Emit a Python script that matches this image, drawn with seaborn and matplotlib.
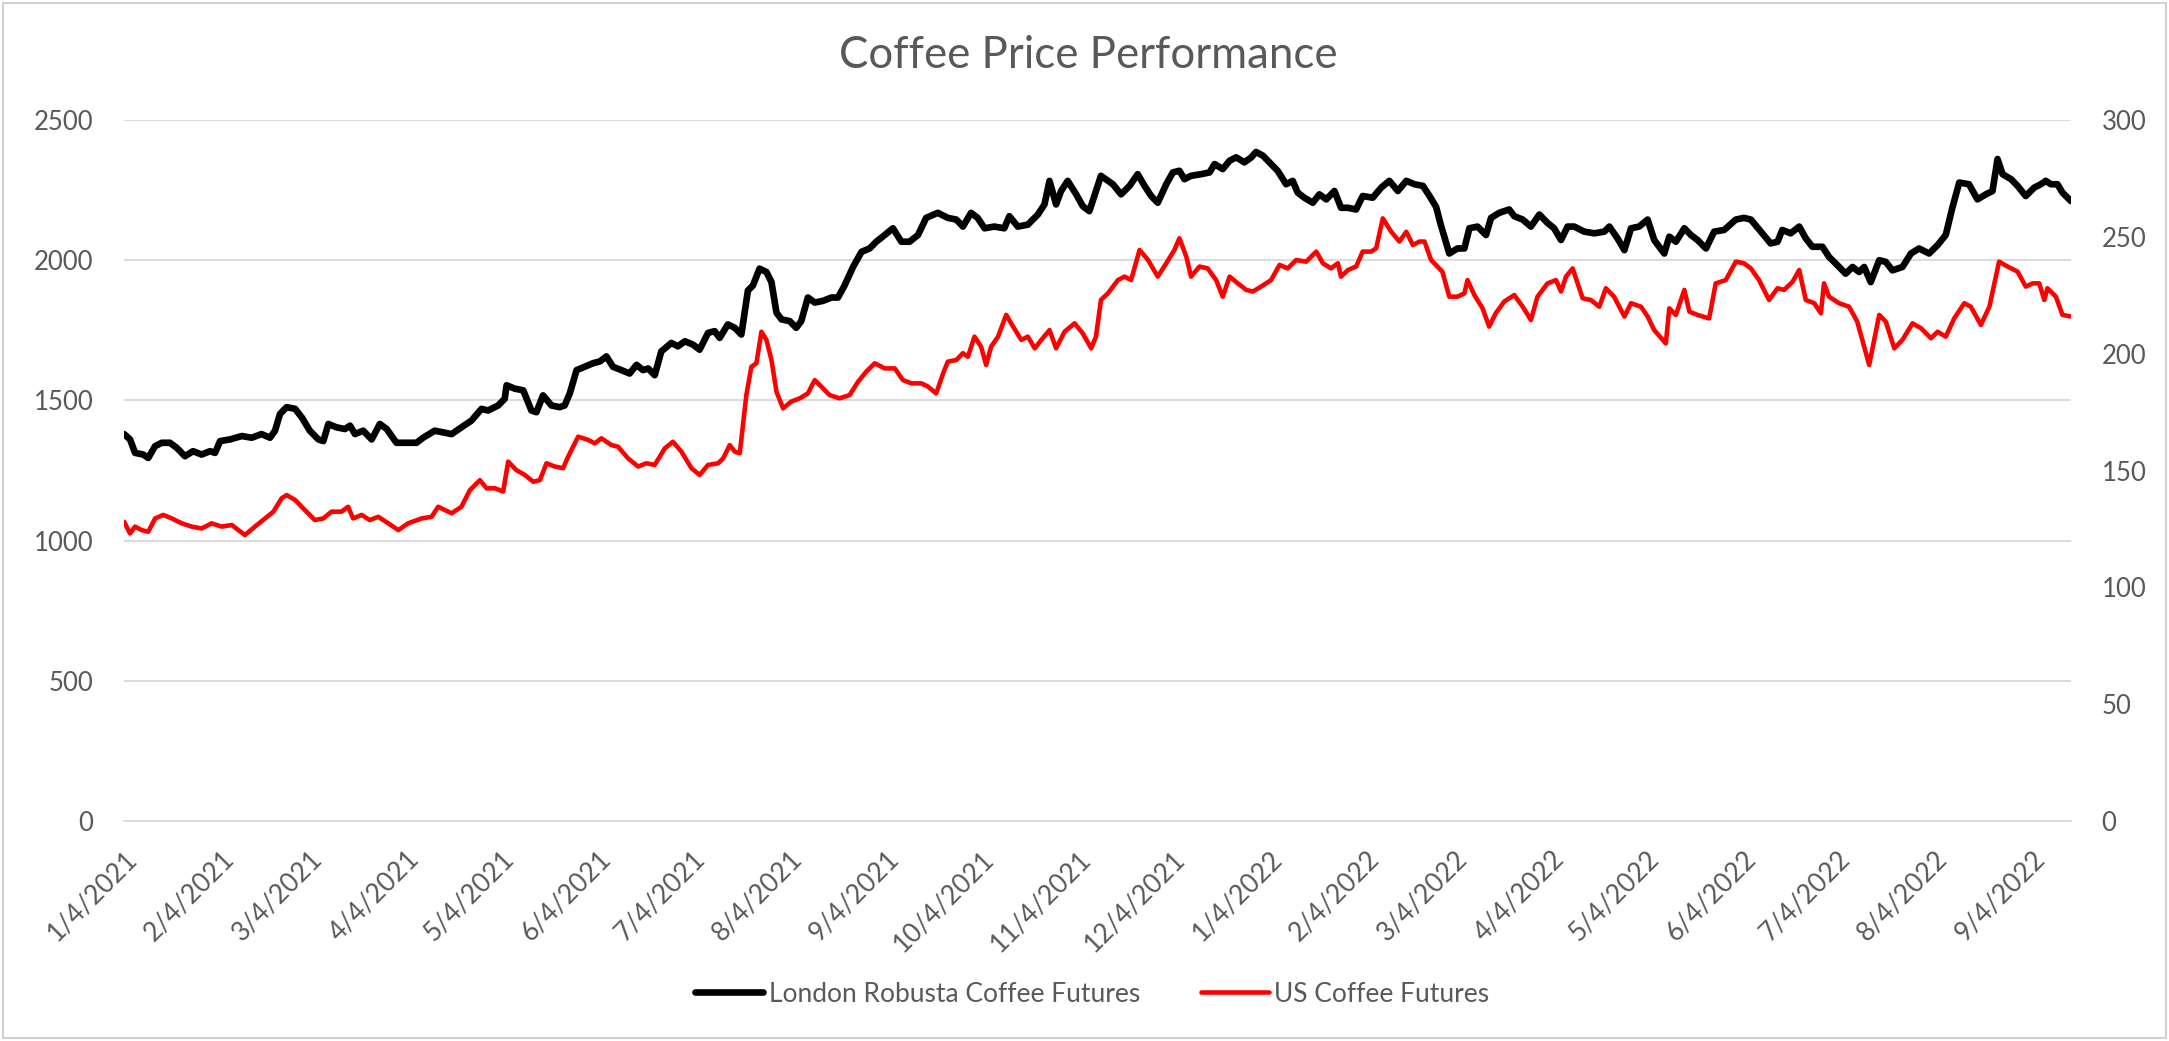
import numpy as np
import pandas as pd
import matplotlib
matplotlib.use("Agg")
import matplotlib.pyplot as plt
from matplotlib.patches import Rectangle
import seaborn as sns

# Day offsets are counted from the first trading day shown (4 Jan 2021)
START = pd.Timestamp("2021-01-04")

london_days = [
    0, 1.9, 3.5, 6.1, 7.7, 9.9, 12, 14.6, 16.8, 19.4, 22, 24.7, 27.4, 29, 30.6, 33.8, 37.5,
    40.7, 43.8, 46.5, 48.1, 49.7, 51.8, 54.5, 56.6, 59.2, 61.9, 63.5, 65.1, 67.7, 70.4, 72,
    73.6, 76.2, 78.9, 81.5, 83.7, 86.8, 89.5, 93.2, 95.3, 99, 101.7, 104.4, 107.5, 110.7,
    113.9, 116, 119.2, 121.3, 121.9, 124.5, 127.2, 129.8, 131.4, 133.5, 136.2, 138.8, 140.4,
    142, 144.2, 146.8, 149.5, 151.6, 153.7, 155.8, 158.5, 161.1, 163.3, 165.4, 167, 169.1,
    171.2, 174.4, 176.5, 178.7, 181.3, 183.4, 186.1, 188.2, 189.8, 192.4, 194.6, 196.7,
    198.8, 200.4, 202.5, 204.7, 206.3, 207.9, 209.5, 212.1, 214.2, 215.8, 217.9, 220.1,
    222.7, 225.4, 227.5, 229.6, 232.3, 235, 237.6, 239.7, 242.4, 245, 247.7, 250.3, 253,
    255.6, 259.3, 262.5, 265.2, 267.3, 269.9, 272, 274.2, 277.3, 280.5, 282.1, 284.8, 288,
    291.2, 293.3, 294.9, 297, 298.6, 300.7, 303.4, 305.5, 307.6, 309.7, 311.3, 315.1, 317.7,
    320.4, 323, 325.2, 327.3, 329.4, 332.1, 334.2, 336.3, 337.9, 340, 343.2, 345.9, 347.5,
    350.1, 352.3, 354.4, 357, 359.2, 360.7, 362.9, 365, 367.6, 370.3, 372.4, 374, 376.1,
    378.8, 380.9, 383.1, 385.7, 387.8, 390, 392.6, 394.7, 397.9, 400.6, 403.2, 405.9, 408.6,
    411.2, 413.9, 416, 418.1, 419.6, 422.3, 424.9, 427.1, 428.7, 431.3, 434, 435.6, 438.2,
    441.4, 443, 445.7, 448.3, 451, 453.6, 455.7, 457.9, 460, 462.1, 465.3, 468.5, 471.7,
    473.3, 475.9, 478.1, 480.2, 482.8, 485.5, 487.6, 490.8, 492.4, 494.5, 497.2, 499.3,
    501.4, 504.1, 506.7, 509.9, 513.6, 516.2, 518.4, 521.6, 524.7, 526.9, 528.4, 531.1,
    533.8, 535.9, 538, 541.2, 543.3, 546, 548.6, 550.8, 552.9, 554.5, 556.6, 559.3, 561.4,
    563.5, 566.7, 569.4, 572, 575.2, 577.9, 580.5, 582.6, 584.8, 587.9, 590.6, 593.3, 595.4,
    597, 598.6, 601.3, 603.4, 606, 608.7, 610.8, 612.4, 614, 616.1, 617.7, 620.4,
]
london_price = [
    1380, 1361, 1313, 1307, 1295, 1337, 1349, 1349, 1331, 1301, 1319, 1307, 1319, 1313, 1355,
    1361, 1373, 1367, 1380, 1367, 1392, 1452, 1476, 1470, 1440, 1392, 1361, 1355, 1416, 1404,
    1398, 1410, 1380, 1392, 1361, 1416, 1398, 1349, 1349, 1349, 1367, 1392, 1386, 1380, 1404,
    1428, 1470, 1464, 1482, 1506, 1554, 1542, 1536, 1464, 1458, 1518, 1482, 1476, 1482, 1524,
    1608, 1620, 1633, 1639, 1657, 1620, 1608, 1596, 1627, 1608, 1614, 1590, 1675, 1705, 1693,
    1711, 1699, 1681, 1741, 1747, 1723, 1771, 1759, 1735, 1892, 1910, 1970, 1958, 1922, 1813,
    1789, 1783, 1759, 1783, 1867, 1849, 1855, 1867, 1867, 1910, 1976, 2030, 2042, 2066, 2090,
    2114, 2066, 2066, 2090, 2151, 2169, 2151, 2145, 2120, 2169, 2151, 2114, 2120, 2114, 2157,
    2120, 2127, 2163, 2199, 2283, 2199, 2247, 2283, 2235, 2193, 2175, 2247, 2301, 2271, 2235,
    2265, 2307, 2265, 2229, 2205, 2271, 2313, 2319, 2289, 2301, 2307, 2313, 2343, 2325, 2355,
    2367, 2349, 2367, 2386, 2373, 2349, 2319, 2271, 2283, 2241, 2223, 2205, 2235, 2217, 2247,
    2187, 2187, 2181, 2229, 2223, 2259, 2283, 2247, 2283, 2271, 2265, 2229, 2190, 2126, 2024,
    2042, 2042, 2114, 2120, 2090, 2151, 2169, 2181, 2157, 2145, 2120, 2163, 2133, 2114, 2072,
    2120, 2120, 2102, 2096, 2102, 2120, 2078, 2036, 2114, 2120, 2145, 2072, 2024, 2084, 2066,
    2114, 2090, 2072, 2042, 2102, 2108, 2145, 2151, 2145, 2102, 2060, 2066, 2108, 2096, 2120,
    2078, 2048, 2048, 2012, 1982, 1952, 1976, 1958, 1976, 1922, 2000, 1994, 1964, 1976, 2024,
    2042, 2024, 2054, 2090, 2187, 2277, 2271, 2217, 2235, 2247, 2361, 2307, 2289, 2265, 2229,
    2259, 2271, 2283, 2271, 2271, 2241, 2211,
]

us_days = [
    0, 1.9, 3.5, 5.6, 7.7, 9.9, 12.5, 15.2, 18.4, 21.5, 24.7, 27.9, 31.1, 34.3, 38.5, 41.7,
    44.9, 47.6, 50.2, 51.8, 54.5, 57.6, 60.8, 63.5, 66.1, 69.3, 71.4, 73, 75.7, 78.3, 81,
    84.2, 87.4, 90.5, 94.8, 98, 100.1, 102.2, 104.4, 107.5, 110.2, 113.4, 115.5, 118.2,
    120.8, 122.4, 125, 127.7, 130.4, 132.5, 134.6, 137.3, 139.9, 141.5, 144.7, 147.9, 150,
    152.1, 155.3, 157.4, 160.6, 163.8, 166.4, 169.1, 172.3, 174.9, 177.6, 180.8, 183.4,
    186.1, 189.3, 190.9, 193, 194.6, 196.2, 198.3, 199.9, 201.5, 203.1, 204.7, 206.3, 207.9,
    210, 212.6, 215.3, 217.9, 220.1, 222.2, 224.8, 228, 231.2, 233.9, 236.5, 239.2, 242.4,
    245.6, 248.2, 250.9, 254.1, 256.2, 258.8, 261, 262.5, 265.2, 267.3, 268.9, 271, 273.1,
    274.7, 276.3, 278.5, 281.1, 283.3, 285.9, 288, 290.2, 292.3, 294.9, 297, 299.7, 302.9,
    305.5, 308.2, 309.7, 311.3, 313.5, 316.7, 318.8, 320.9, 323.6, 326.3, 329.4, 332.1,
    334.7, 336.3, 338.5, 340, 342.7, 345.3, 348, 350.1, 352.3, 354.9, 357.6, 359.7, 362.3,
    365.5, 368.2, 370.8, 373.5, 376.7, 379.9, 382, 384.6, 386.8, 387.8, 390, 392.6, 394.7,
    397.4, 399, 401.1, 403.8, 406.4, 408.6, 410.7, 412.8, 414.4, 416.5, 420.1, 422.3, 424.9,
    427.1, 428.1, 430.3, 432.9, 435, 437.1, 439.8, 443, 445.7, 448.3, 450.4, 453.6, 456.3,
    457.9, 459.5, 461.6, 464.8, 467.4, 470.1, 472.2, 474.8, 478.1, 480.2, 483.4, 485.5,
    487.6, 491.3, 492.4, 494.5, 497.2, 498.8, 501.4, 505.1, 507.2, 510.4, 513.6, 516.2,
    518.4, 521, 524.2, 526.9, 529, 531.7, 533.8, 535.9, 538.6, 540.7, 541.7, 543.3, 546.5,
    549.7, 552.3, 554.5, 556.1, 557.7, 559.3, 561.4, 564.1, 566.7, 569.9, 572.6, 575.8,
    577.9, 580.5, 583.2, 586.4, 588.5, 591.7, 594.4, 597.5, 600.2, 603.4, 606, 608.2, 610.3,
    611.9, 612.9, 615.6, 617.7, 620.4,
]
us_price = [
    128.1, 123.1, 126, 124.5, 123.8, 129.5, 131, 129.5, 127.4, 126, 125.2, 127.4, 126, 126.7,
    122.4, 126, 129.5, 132.4, 138.1, 139.5, 137.4, 133.1, 128.8, 129.5, 132.4, 132.4, 134.5,
    129.5, 131, 128.8, 130.2, 127.4, 124.5, 127.4, 129.5, 130.2, 134.5, 133.1, 131.7, 134.5,
    141.6, 145.9, 142.4, 142.4, 141, 153.8, 150.2, 148.1, 145.2, 145.9, 153.1, 151.7, 151,
    155.9, 164.5, 163.1, 161.6, 163.8, 160.9, 160.2, 155.2, 151.7, 153.1, 152.4, 159.5, 162.3,
    158.1, 151, 148.1, 152.4, 153.1, 155.2, 160.9, 158.1, 157.4, 182.3, 194.4, 195.9, 209.4,
    205.9, 197.3, 183.7, 176.6, 179.5, 180.9, 183, 188.7, 185.9, 182.3, 180.9, 182.3, 188,
    192.3, 195.9, 193.7, 193.7, 188.7, 187.3, 187.3, 185.9, 183, 191.6, 196.6, 197.3, 200.2,
    198.7, 207.3, 203, 195.2, 203, 207.3, 216.6, 211.6, 205.9, 207.3, 202.3, 205.9, 210.1,
    202.3, 209.4, 213, 208.7, 202.3, 207.3, 223, 225.8, 231.5, 233, 231.5, 244.4, 240.1, 233,
    238.7, 244.4, 249.4, 241.5, 233, 237.3, 236.5, 231.5, 224.4, 233, 230.1, 227.3, 226.6,
    228.7, 231.5, 238, 236.5, 240.1, 239.4, 243.7, 238.7, 236.5, 238.7, 233, 235.8, 237.3,
    243.7, 243.7, 245.1, 257.9, 252.2, 248, 252.2, 246.5, 248, 248, 240.1, 235.1, 224.4,
    224.4, 225.8, 231.5, 225.1, 219.4, 211.6, 217.3, 222.3, 225.1, 220.1, 214.4, 224.4, 230.1,
    231.5, 226.6, 233, 236.5, 223.7, 223, 220.1, 228, 224.4, 215.9, 221.6, 220.1, 215.9,
    210.1, 204.4, 219.4, 216.6, 227.3, 218, 216.6, 215.1, 230.1, 231.5, 239.4, 238.7, 236.5,
    231.5, 223, 228, 227.3, 230.8, 235.8, 223, 221.6, 217.3, 230.1, 224.4, 221.6, 220.1,
    213.7, 203, 195.2, 205.9, 216.6, 213.7, 202.3, 205.9, 213, 210.9, 206.6, 209.4, 207.3,
    215.1, 221.6, 220.1, 212.3, 220.1, 239.4, 237.3, 235.1, 228.7, 230.1, 230.1, 223, 228,
    224.4, 216.6, 215.9,
]

london = pd.DataFrame({
    "date": START + pd.to_timedelta(london_days, unit="D"),
    "price": london_price,
})
us = pd.DataFrame({
    "date": START + pd.to_timedelta(us_days, unit="D"),
    "price": us_price,
})

TEXT = "#595959"
GRID = "#d9d9d9"

sns.set_theme(style="white")
plt.rcParams["font.family"] = ["Lato", "DejaVu Sans"]

fig = plt.figure(figsize=(21.69, 10.41), dpi=100)
ax = fig.add_axes([0.0572, 0.2113, 0.8976, 0.6734])
ax2 = ax.twinx()

sns.lineplot(data=london, x="date", y="price", ax=ax, color="black",
             linewidth=4.8, label="London Robusta Coffee Futures", legend=False)
sns.lineplot(data=us, x="date", y="price", ax=ax2, color="#ff0000",
             linewidth=3.3, label="US Coffee Futures", legend=False)

# Left axis (London, USD/t)
ax.set_ylim(0, 2500)
ax.set_yticks(np.arange(0, 2501, 500))
ax.yaxis.grid(True, color=GRID, linewidth=1.3)
ax.set_axisbelow(True)
ax.set_xlabel("")
ax.set_ylabel("")

# Right axis (US, cents/lb)
ax2.set_ylim(0, 300)
ax2.set_yticks(np.arange(0, 301, 50))
ax2.set_ylabel("")
ax2.grid(False)

# Monthly ticks on the 4th
end = START + pd.Timedelta(days=620.4)
ax.set_xlim(START, end)
ticks = [START + pd.DateOffset(months=i) for i in range(21)]
ax.set_xticks(ticks)
ax.set_xticklabels([f"{d.month}/{d.day}/{d.year}" for d in ticks])

for a in (ax, ax2):
    for s in ("top", "left", "right", "bottom"):
        a.spines[s].set_visible(False)
ax.spines["bottom"].set_visible(True)
ax.spines["bottom"].set_color(GRID)
ax.spines["bottom"].set_linewidth(1.3)

ax.tick_params(axis="x", which="major", direction="out", length=9, width=1.3,
               color=GRID, labelsize=19, labelcolor=TEXT, pad=9)
for lbl in ax.get_xticklabels():
    lbl.set_rotation(45)
    lbl.set_ha("right")
    lbl.set_rotation_mode("anchor")
ax.tick_params(axis="y", length=0, labelsize=18.5, labelcolor=TEXT, pad=22)
ax2.tick_params(axis="y", length=0, labelsize=18.5, labelcolor=TEXT, pad=22)

fig.text(0.5016, 0.947, "Coffee Price Performance", ha="center", va="center",
         fontsize=31.5, color=TEXT)

h1, l1 = ax.get_legend_handles_labels()
h2, l2 = ax2.get_legend_handles_labels()
fig.legend(h1 + h2, l1 + l2, loc="center", bbox_to_anchor=(0.5035, 0.045), ncol=2,
           frameon=False, fontsize=19, labelcolor=TEXT, handlelength=2.6,
           handletextpad=0.2, columnspacing=2.3)

# Chart-area outline
fig.patches.append(Rectangle((3 / 2169, 3 / 1041), 1 - 6 / 2169, 1 - 6 / 1041,
                             transform=fig.transFigure, fill=False,
                             edgecolor="#d0d0d0", linewidth=1.5))

fig.savefig("out.png", dpi=100, facecolor="white")
